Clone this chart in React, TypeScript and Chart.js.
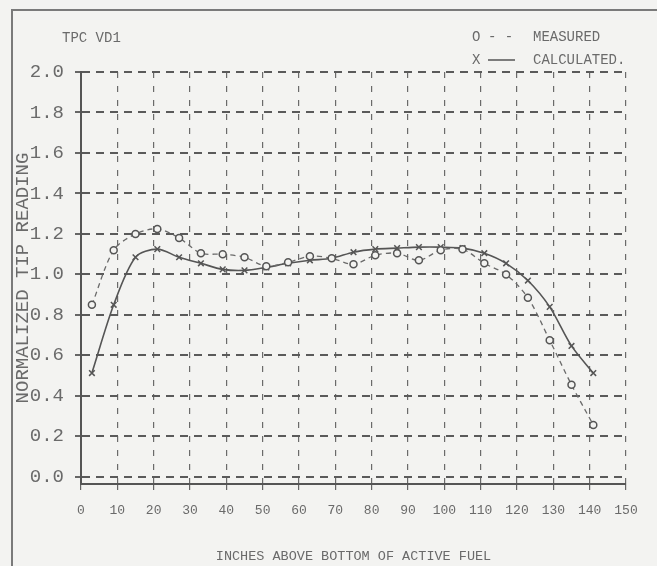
import React, { useEffect, useRef } from "react";
import { Chart, registerables } from "chart.js";

Chart.register(...registerables);

const positions = [3, 9, 15, 21, 27, 33, 39, 45, 51, 57, 63, 69, 75, 81, 87, 93, 99, 105, 111, 117, 123, 129, 135, 141];
const measured = [0.85, 1.12, 1.2, 1.225, 1.18, 1.105, 1.1, 1.085, 1.04, 1.06, 1.09, 1.08, 1.05, 1.095, 1.105, 1.07, 1.12, 1.125, 1.055, 1.0, 0.885, 0.675, 0.455, 0.257];
const calculated = [0.513, 0.85, 1.085, 1.125, 1.085, 1.055, 1.025, 1.02, 1.035, 1.055, 1.07, 1.08, 1.11, 1.125, 1.13, 1.135, 1.135, 1.13, 1.105, 1.055, 0.97, 0.84, 0.647, 0.513];
const yTicks = [0, 0.2, 0.4, 0.6, 0.8, 1.0, 1.2, 1.4, 1.6, 1.8, 2.0];
const xTitle = "INCHES ABOVE BOTTOM OF ACTIVE FUEL";
const yTitle = "NORMALIZED TIP READING";
const chartLabel = "TPC VD1";
const legendMeasured = "MEASURED";
const legendCalculated = "CALCULATED.";

const BG = "#f3f3f1";
const INK = "#555555";
const TXT = "#6a6a6a";
const MONO = "'Liberation Mono', 'DejaVu Sans Mono', monospace";

const decor = {
  id: "decor",
  beforeDraw(chart: any) {
    const { ctx, width, height } = chart;
    ctx.save();
    ctx.fillStyle = BG;
    ctx.fillRect(0, 0, width, height);
    ctx.strokeStyle = "#7a7a7a";
    ctx.lineWidth = 2;
    ctx.beginPath();
    ctx.moveTo(12, height);
    ctx.lineTo(12, 10);
    ctx.lineTo(width, 10);
    ctx.stroke();
    ctx.restore();
  },
  afterDraw(chart: any) {
    const { ctx } = chart;
    ctx.save();
    ctx.fillStyle = TXT;
    ctx.textBaseline = "middle";
    ctx.textAlign = "left";
    ctx.font = `14px ${MONO}`;
    ctx.fillText(chartLabel, 62, 38);
    // legend
    ctx.fillText("O", 472, 37);
    ctx.fillText("- -", 488, 37);
    ctx.fillText(legendMeasured, 533, 37);
    ctx.fillText("X", 472, 60);
    ctx.strokeStyle = INK;
    ctx.lineWidth = 1.5;
    ctx.beginPath();
    ctx.moveTo(488, 60);
    ctx.lineTo(515, 60);
    ctx.stroke();
    ctx.fillText(legendCalculated, 533, 60);
    ctx.restore();
  },
};

export default function App() {
  const ref = useRef<HTMLCanvasElement | null>(null);
  useEffect(() => {
    document.body.style.margin = "0";
    const canvas = ref.current;
    if (!canvas) return;
    const chart = new Chart(canvas, {
      type: "line",
      data: {
        datasets: [
          {
            label: legendMeasured,
            data: positions.map((x, i) => ({ x, y: measured[i] })),
            borderColor: "#6a6a6a",
            borderWidth: 1.3,
            borderDash: [5, 4],
            pointStyle: "circle",
            pointRadius: 3.5,
            pointBorderWidth: 1.5,
            pointBorderColor: "#555",
            pointBackgroundColor: BG,
            tension: 0.3,
          },
          {
            label: legendCalculated,
            data: positions.map((x, i) => ({ x, y: calculated[i] })),
            borderColor: INK,
            borderWidth: 1.6,
            pointStyle: "crossRot",
            pointRadius: 4,
            pointBorderWidth: 1.5,
            pointBorderColor: "#555",
            tension: 0.3,
          },
        ],
      },
      options: {
        animation: false,
        responsive: true,
        maintainAspectRatio: false,
        layout: { padding: { top: 72, right: 31, left: 0, bottom: 0 } },
        plugins: { legend: { display: false }, tooltip: { enabled: false } },
        scales: {
          x: {
            type: "linear",
            min: 0,
            max: 150,
            afterFit(scale: any) {
              scale.height = 82;
            },
            ticks: { stepSize: 10, color: TXT, font: { family: MONO, size: 13 }, padding: 13, maxRotation: 0 },
            grid: { color: "#6a6a6a", lineWidth: 1.2, tickLength: 6, tickColor: "#666" },
            border: { display: true, color: "#555", width: 2, dash: [6, 8] } as any,
            title: { display: true, text: xTitle, color: TXT, font: { family: MONO, size: 13.5 }, padding: { top: 0, bottom: 1 } },
          },
          y: {
            type: "linear",
            min: -0.035,
            max: 2.0,
            afterFit(scale: any) {
              scale.width = 81;
            },
            afterBuildTicks(scale: any) {
              scale.ticks = yTicks.map((v) => ({ value: v }));
            },
            ticks: {
              color: TXT,
              font: { family: MONO, size: 19 },
              padding: 11,
              callback: (v: any) => Number(v).toFixed(1),
            },
            grid: { color: "#5a5a5a", lineWidth: 2, tickLength: 6, tickColor: "#666" },
            border: { display: true, color: "#555", width: 2, dash: [8, 6] } as any,
            title: { display: true, text: yTitle, color: TXT, font: { family: MONO, size: 19 }, padding: { top: 12, bottom: 0 } },
          },
        },
      },
      plugins: [decor],
    } as any);
    return () => chart.destroy();
  }, []);
  return (
    <div style={{ position: "absolute", left: 0, top: 0, width: 657, height: 566 }}>
      <canvas ref={ref} />
    </div>
  );
}
